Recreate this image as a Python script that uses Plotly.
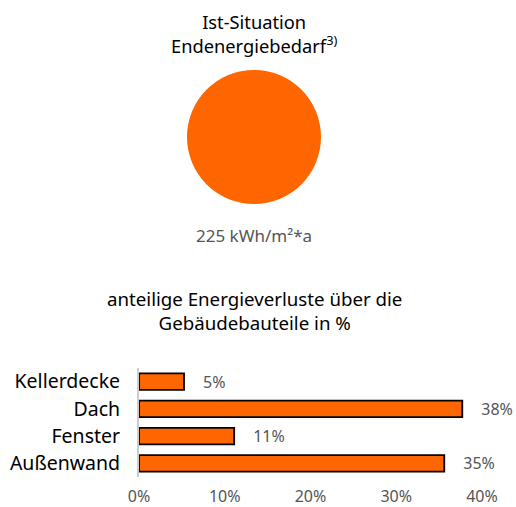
import plotly.graph_objects as go

title_lines = ["Ist-Situation", "Endenergiebedarf<sup>3)</sup>"]
demand_value = [225]
demand_label = "225 kWh/m²*a"
bar_title = "anteilige Energieverluste über die<br>Gebäudebauteile in %"
categories = ["Kellerdecke", "Dach", "Fenster", "Außenwand"]
shares = [5.25, 37.7, 11.1, 35.6]
share_labels = ["5%", "38%", "11%", "35%"]
x_ticks = [0, 10, 20, 30, 40]
x_ticklabels = ["0%", "10%", "20%", "30%", "40%"]

ORANGE = "#FF6600"
FONT = "Noto Sans"

fig = go.Figure()

fig.add_trace(go.Pie(
    values=demand_value, labels=["Endenergiebedarf"],
    domain=dict(x=[187/516, 321/516], y=[(507-204)/507, (507-70)/507]),
    marker=dict(colors=[ORANGE], line=dict(width=0)),
    textinfo="none", hoverinfo="skip", showlegend=False, sort=False,
))

fig.add_trace(go.Bar(
    y=categories, x=shares, orientation="h",
    marker=dict(color=ORANGE, line=dict(color="black", width=1.8)),
    width=0.6,
    text=["\u2002\u2002" + t for t in share_labels],
    textposition="outside", cliponaxis=False, constraintext="none",
    textfont=dict(color="#555555", size=16, family=FONT),
    showlegend=False,
))

fig.update_layout(
    width=516, height=507,
    margin=dict(l=0, r=0, t=0, b=0),
    paper_bgcolor="white", plot_bgcolor="white",
    font=dict(family=FONT, color="black"),
    xaxis=dict(
        domain=[139/516, 482/516], range=[0, 40],
        tickvals=x_ticks, ticktext=x_ticklabels,
        showgrid=False, zeroline=False, showline=False,
        ticks="outside", ticklen=5, tickcolor="rgba(0,0,0,0)",
        tickfont=dict(color="#555555", size=16), automargin=False,
    ),
    yaxis=dict(
        domain=[(507-477)/507, (507-368)/507],
        categoryorder="array", categoryarray=categories[::-1],
        showgrid=False, zeroline=False,
        showline=True, linecolor="#cccccc", linewidth=2,
        ticks="outside", ticklen=13, tickcolor="rgba(0,0,0,0)",
        tickfont=dict(color="black", size=19.5), automargin=False,
    ),
    annotations=[
        dict(text="<br>".join(title_lines), x=254/516, y=(507-33)/507, xref="paper", yref="paper",
             xanchor="center", yanchor="middle",
             showarrow=False, font=dict(size=18.3, color="black"), align="center"),
        dict(text=demand_label, x=254/516, y=(507-235)/507, xref="paper", yref="paper",
             xanchor="center", yanchor="middle",
             showarrow=False, font=dict(size=17, color="#555555")),
        dict(text=bar_title, x=254/516, y=(507-310)/507, xref="paper", yref="paper",
             xanchor="center", yanchor="middle",
             showarrow=False, font=dict(size=18.7, color="black"), align="center"),
    ],
)

fig.write_html("out.html", config={"displayModeBar": False},
               post_script="document.body.style.margin='0';")
